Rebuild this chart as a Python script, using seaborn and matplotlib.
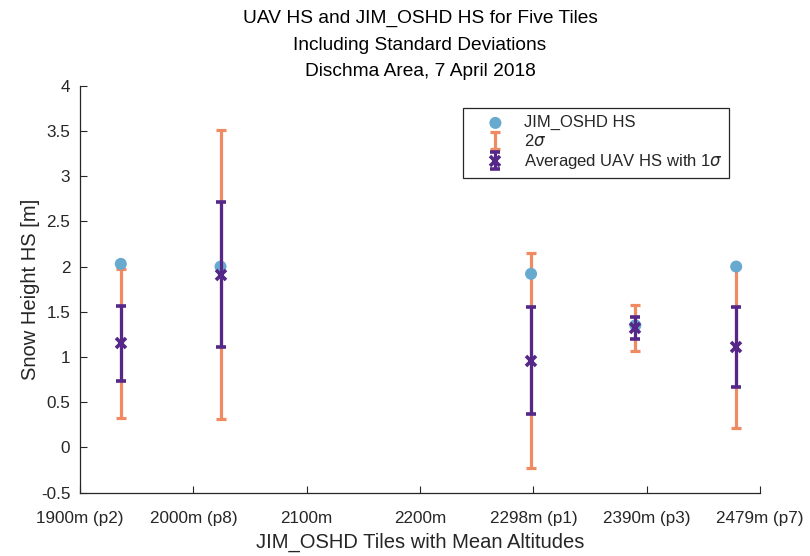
import numpy as np
import pandas as pd
import matplotlib
matplotlib.use("Agg")
import matplotlib.pyplot as plt
import seaborn as sns

# ---- data ----
tiles = ["p2", "p8", "p1", "p3", "p7"]
altitudes = [1936, 2024, 2298, 2390, 2479]
jim_oshd_hs = [2.03, 2.00, 1.92, 1.35, 2.00]
uav_mean = [1.15, 1.91, 0.96, 1.32, 1.11]
uav_std = [0.41, 0.80, 0.595, 0.125, 0.445]
tick_values = [1900, 2000, 2100, 2200, 2300, 2400, 2500]
tick_labels = ["1900m (p2)", "2000m (p8)", "2100m", "2200m",
               "2298m (p1)", "2390m (p3)", "2479m (p7)"]
ytick_values = [-0.5, 0, 0.5, 1, 1.5, 2, 2.5, 3, 3.5, 4]
ytick_labels = ["-0.5", "0", "0.5", "1", "1.5", "2", "2.5", "3", "3.5", "4"]

df = pd.DataFrame({"tile": tiles, "alt": altitudes, "jim": jim_oshd_hs,
                   "mean": uav_mean, "std": uav_std})

sns.set_style("ticks")
plt.rcParams["font.family"] = ["Liberation Sans", "DejaVu Sans"]
plt.rcParams["mathtext.fontset"] = "dejavusans"

c_blue = "#67A9CF"
c_orange = "#EF8A62"
c_purple = "#542788"
c_text = "#262626"

fig = plt.figure(figsize=(8.1, 5.56), dpi=100)
ax = fig.add_axes([80 / 810, 1 - 492.7 / 556, 680 / 810, (492.7 - 85.7) / 556])

h2 = ax.errorbar(df["alt"], df["mean"], yerr=2 * df["std"], fmt="none",
                 ecolor=c_orange, elinewidth=2.3, capsize=3.8, capthick=2.3,
                 label=r"2$\sigma$", zorder=2)
sns.scatterplot(data=df, x="alt", y="jim", ax=ax, color=c_blue, s=75,
                edgecolor="none", label="JIM_OSHD HS", zorder=3, legend=False)
h1 = ax.collections[-1]
h3 = ax.errorbar(df["alt"], df["mean"], yerr=df["std"], fmt="x",
                 color=c_purple, ecolor=c_purple, elinewidth=2.3, capsize=3.8,
                 capthick=2.3, markersize=7, markeredgewidth=2.6,
                 label=r"Averaged UAV HS with 1$\sigma$", zorder=4)

ax.set_xlim(1900, 2500)
ax.set_ylim(-0.5, 4)
ax.set_xticks(tick_values)
ax.set_xticklabels(tick_labels)
ax.set_yticks(ytick_values)
ax.set_yticklabels(ytick_labels)
ax.tick_params(axis="both", direction="in", length=5, width=0.8,
               colors=c_text, labelsize=12.3, pad=7, bottom=True, left=True,
               top=False, right=False)
ax.tick_params(axis="x", pad=13)
for side in ["top", "right"]:
    ax.spines[side].set_visible(False)
for side in ["left", "bottom"]:
    ax.spines[side].set_color(c_text)
    ax.spines[side].set_linewidth(0.9)

ax.set_xlabel("JIM_OSHD Tiles with Mean Altitudes", fontsize=14.5, color=c_text, labelpad=5)
ax.set_ylabel("Snow Height HS [m]", fontsize=14.5, color=c_text, labelpad=1)
ax.set_title("UAV HS and JIM_OSHD HS for Five Tiles\nIncluding Standard Deviations\nDischma Area, 7 April 2018",
             fontsize=13.8, color="#000000", linespacing=1.72, pad=7)

leg = ax.legend([h1, h2, h3], ["JIM_OSHD HS", r"2$\sigma$", r"Averaged UAV HS with 1$\sigma$"],
                loc="upper right", bbox_to_anchor=(0.955, 0.9445), borderaxespad=0,
                fancybox=False, edgecolor=c_text, framealpha=1, fontsize=12,
                handlelength=3.0, handletextpad=0.2, labelspacing=0.18,
                borderpad=0.42)
leg.get_frame().set_linewidth(0.9)

ax.grid(False)
fig.savefig("out.png", dpi=100)
